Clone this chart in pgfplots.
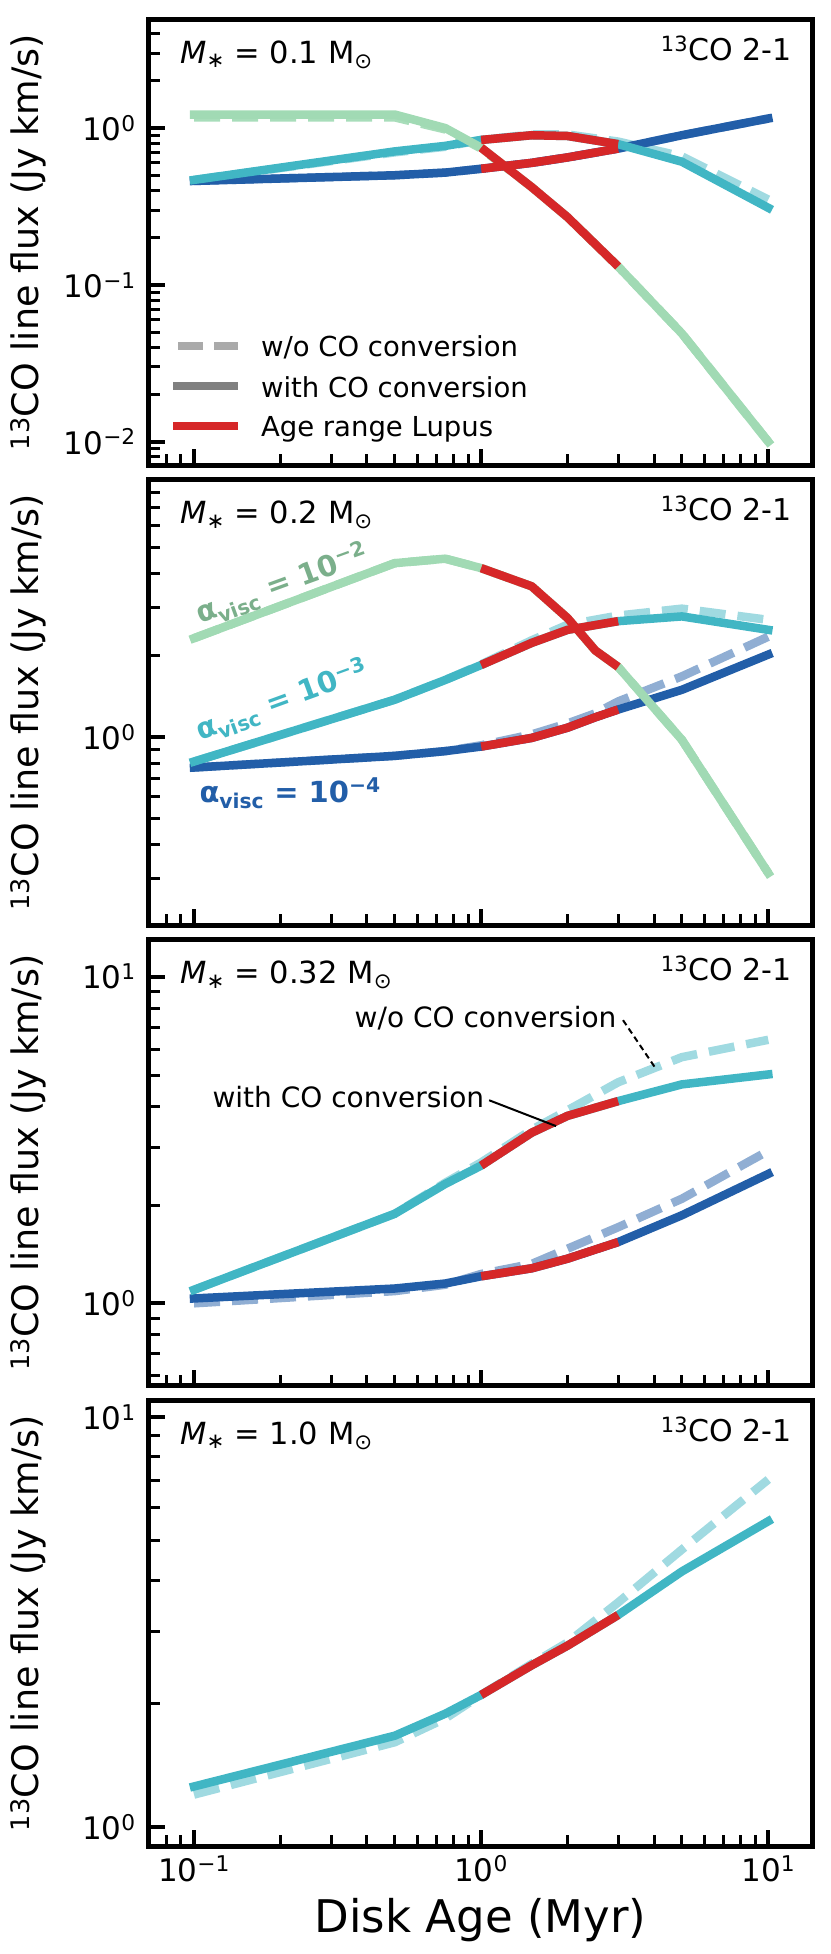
\documentclass[border=0pt]{standalone}
\usepackage{fontspec}
\setmainfont{DejaVu Sans}
\usepackage{pgfplots}
\pgfplotsset{compat=1.18}

\definecolor{cgreen}{HTML}{A1DAB4}
\definecolor{ccyan}{HTML}{41B6C4}
\definecolor{cblue}{HTML}{225EA8}
\definecolor{cred}{HTML}{D62728}
\definecolor{lcyan}{HTML}{A0DAE1}
\definecolor{lblue}{HTML}{90AED3}
\definecolor{lgreen}{HTML}{A8DDBA}
\definecolor{tgreen}{HTML}{7BAF8B}
\definecolor{lgray}{HTML}{AAAAAA}
\definecolor{mgray}{HTML}{808080}

\newcommand{\fs}[2]{\fontsize{#1}{#2}\selectfont}
\newcommand{\sups}[1]{\textsuperscript{#1}}

\tikzset{
  ds/.style={line width=8.5pt, dash pattern=on 26pt off 12pt, line cap=butt, line join=round},
  sl/.style={line width=8.5pt, line cap=rect, line join=round},
  rd/.style={line width=8.5pt, line cap=butt, line join=round, color=cred},
}

\begin{document}
\begin{tikzpicture}
\useasboundingbox (0pt,0pt) rectangle (830pt,-1954pt);

% ---------------- Panel 1 : M = 0.1 ----------------
\begin{axis}[at={(149pt,-19pt)}, anchor=north west,
    width=663pt, height=446pt, scale only axis,
    xmode=log, ymode=log, xmin=0.0697, xmax=14.2,
    tick align=inside, tick pos=left,
    xtick={0.1,1,10},
    minor xtick={0.08,0.09,0.2,0.3,0.4,0.5,0.6,0.7,0.8,0.9,2,3,4,5,6,7,8,9},
    xticklabels={,,},
    axis line style={line width=5pt, line cap=rect},
    major tick length=16pt, minor tick length=11pt,
    major tick style={line width=4pt, black},
    minor tick style={line width=3pt, black},
    tick label style={font=\fs{31}{37}},
    yticklabel style={anchor=east, inner sep=0pt, xshift=-13pt},
    ylabel={\sups{13}CO line flux (Jy km/s)},
    ylabel style={at={(axis description cs:-0.1825,0.5)}, anchor=center, font=\fs{36.5}{43}},
  ymin=0.0071, ymax=4.96,
  ytick={0.01,0.1,1}, yticklabels={10\sups{−2},10\sups{−1},10\sups{0}},
  minor ytick={0.008,0.009,0.02,0.03,0.04,0.05,0.06,0.07,0.08,0.09,0.2,0.3,0.4,0.5,0.6,0.7,0.8,0.9,2,3,4},
  legend image code/.code={\draw[#1,line cap=butt] (0pt,11pt) -- (65pt,11pt);},
  legend style={at={(axis description cs:0.0302,0.0471)}, anchor=south west,
    draw=none, fill=none, inner sep=0pt, outer sep=0pt,
    font=\fs{27.5}{33}, row sep=13pt, column sep=18.5pt,
    nodes={inner sep=0pt, anchor=base west, text height=20pt, text depth=7pt}},
]
\addplot[ds, lgreen, forget plot] coordinates {(0.1,1.17)(0.5,1.17)(0.75,0.98)(1,0.74)(1.5,0.42)(2,0.27)(3,0.131)(5,0.049)(10,0.0100)};
\addplot[ds, lcyan, forget plot] coordinates {(0.1,0.467)(0.5,0.70)(0.75,0.76)(1,0.84)(1.5,0.91)(2,0.91)(3,0.82)(5,0.66)(10,0.35)};
\addplot[ds, lblue, forget plot] coordinates {(0.1,0.46)(0.5,0.50)(0.75,0.52)(1,0.55)(1.5,0.60)(2,0.65)(3,0.74)(5,0.90)(10,1.15)};
\addplot[sl, cblue, forget plot] coordinates {(0.1,0.46)(0.5,0.50)(0.75,0.52)(1,0.55)(1.5,0.60)(2,0.65)(3,0.74)(5,0.90)(10,1.15)};
\addplot[sl, ccyan, forget plot] coordinates {(0.1,0.467)(0.5,0.71)(0.75,0.77)(1,0.84)(1.5,0.90)(2,0.89)(3,0.79)(5,0.61)(10,0.31)};
\addplot[sl, cgreen, forget plot] coordinates {(0.1,1.22)(0.5,1.22)(0.75,1.0)(1,0.75)(1.5,0.42)(2,0.27)(3,0.131)(5,0.049)(10,0.0100)};
\addplot[rd, forget plot] coordinates {(1,0.55)(1.5,0.60)(2,0.65)(3,0.74)};
\addplot[rd, forget plot] coordinates {(1,0.84)(1.5,0.90)(2,0.89)(3,0.79)};
\addplot[rd, forget plot] coordinates {(1,0.75)(1.5,0.42)(2,0.27)(3,0.131)};
\addlegendimage{line width=8.5pt, lgray, dash pattern=on 25pt off 11pt, dash phase=31pt}
\addlegendentry{w/o CO conversion}
\addlegendimage{line width=8.5pt, mgray}
\addlegendentry{with CO conversion}
\addlegendimage{line width=8.5pt, cred}
\addlegendentry{Age range Lupus}
\node[anchor=base west, font=\fs{30.5}{36}] at (axis description cs:0.0418,0.901) {\textit{M}\textsubscript{∗} = 0.1 M\textsubscript{⊙}};
\node[anchor=base east, font=\fs{30}{36}] at (axis description cs:0.974,0.908) {\sups{13}CO 2-1};
\end{axis}

% ---------------- Panel 2 : M = 0.2 ----------------
\begin{axis}[at={(149pt,-479.33pt)}, anchor=north west,
    width=663pt, height=446pt, scale only axis,
    xmode=log, ymode=log, xmin=0.0697, xmax=14.2,
    tick align=inside, tick pos=left,
    xtick={0.1,1,10},
    minor xtick={0.08,0.09,0.2,0.3,0.4,0.5,0.6,0.7,0.8,0.9,2,3,4,5,6,7,8,9},
    xticklabels={,,},
    axis line style={line width=5pt, line cap=rect},
    major tick length=16pt, minor tick length=11pt,
    major tick style={line width=4pt, black},
    minor tick style={line width=3pt, black},
    tick label style={font=\fs{31}{37}},
    yticklabel style={anchor=east, inner sep=0pt, xshift=-13pt},
    ylabel={\sups{13}CO line flux (Jy km/s)},
    ylabel style={at={(axis description cs:-0.1825,0.5)}, anchor=center, font=\fs{36.5}{43}},
  ymin=0.2014, ymax=8.91,
  ytick={1}, yticklabels={10\sups{0}},
  minor ytick={0.3,0.4,0.5,0.6,0.7,0.8,0.9,2,3,4,5,6,7,8},
]
\addplot[ds, lgreen] coordinates {(0.1,2.31)(0.5,4.37)(0.75,4.54)(1,4.19)(1.5,3.59)(2,2.74)(2.5,2.08)(3,1.81)(5,0.975)(10,0.314)};
\addplot[ds, lcyan] coordinates {(0.1,0.81)(0.5,1.37)(0.75,1.62)(1,1.85)(1.5,2.27)(2,2.59)(3,2.80)(5,2.97)(10,2.70)};
\addplot[ds, lblue] coordinates {(0.1,0.77)(0.5,0.85)(0.75,0.885)(1,0.93)(1.5,1.02)(2,1.12)(2.5,1.22)(3,1.35)(5,1.67)(10,2.34)};
\addplot[sl, cblue] coordinates {(0.1,0.77)(0.5,0.85)(0.75,0.885)(1,0.92)(1.5,0.99)(2,1.08)(2.5,1.18)(3,1.26)(5,1.49)(10,2.01)};
\addplot[sl, ccyan] coordinates {(0.1,0.81)(0.5,1.37)(0.75,1.62)(1,1.84)(1.5,2.22)(2,2.48)(3,2.67)(5,2.78)(10,2.48)};
\addplot[sl, cgreen] coordinates {(0.1,2.31)(0.5,4.37)(0.75,4.54)(1,4.19)(1.5,3.59)(2,2.74)(2.5,2.08)(3,1.81)(5,0.975)(10,0.314)};
\addplot[rd] coordinates {(1,0.92)(1.5,0.99)(2,1.08)(2.5,1.18)(3,1.26)};
\addplot[rd] coordinates {(1,1.84)(1.5,2.22)(2,2.48)(3,2.67)};
\addplot[rd] coordinates {(1,4.19)(1.5,3.59)(2,2.74)(2.5,2.08)(3,1.81)};
\node[anchor=base west, font=\fs{30.5}{36}] at (axis description cs:0.0418,0.901) {\textit{M}\textsubscript{∗} = 0.2 M\textsubscript{⊙}};
\node[anchor=base east, font=\fs{30}{36}] at (axis description cs:0.974,0.908) {\sups{13}CO 2-1};
\node[anchor=base west, rotate=20, text=tgreen, font=\fs{29}{34}\bfseries, inner sep=0pt] at (axis description cs:0.0769,0.6765) {α\textsubscript{visc} = 10\sups{−2}};
\node[anchor=base west, rotate=20, text=ccyan, font=\fs{29}{34}\bfseries, inner sep=0pt] at (axis description cs:0.0769,0.415) {α\textsubscript{visc} = 10\sups{−3}};
\node[anchor=base west, text=cblue, font=\fs{29}{34}\bfseries, inner sep=0pt] at (axis description cs:0.0759,0.2765) {α\textsubscript{visc} = 10\sups{−4}};
\end{axis}

% ---------------- Panel 3 : M = 0.32 ----------------
\begin{axis}[at={(149pt,-939.67pt)}, anchor=north west,
    width=663pt, height=446pt, scale only axis,
    xmode=log, ymode=log, xmin=0.0697, xmax=14.2,
    tick align=inside, tick pos=left,
    xtick={0.1,1,10},
    minor xtick={0.08,0.09,0.2,0.3,0.4,0.5,0.6,0.7,0.8,0.9,2,3,4,5,6,7,8,9},
    xticklabels={,,},
    axis line style={line width=5pt, line cap=rect},
    major tick length=16pt, minor tick length=11pt,
    major tick style={line width=4pt, black},
    minor tick style={line width=3pt, black},
    tick label style={font=\fs{31}{37}},
    yticklabel style={anchor=east, inner sep=0pt, xshift=-13pt},
    ylabel={\sups{13}CO line flux (Jy km/s)},
    ylabel style={at={(axis description cs:-0.1825,0.5)}, anchor=center, font=\fs{36.5}{43}},
  ymin=0.5596, ymax=12.98,
  ytick={1,10}, yticklabels={10\sups{0},10\sups{1}},
  minor ytick={0.6,0.7,0.8,0.9,2,3,4,5,6,7,8,9},
]
\addplot[ds, lcyan] coordinates {(0.1,1.10)(0.5,1.88)(0.75,2.34)(1,2.70)(1.5,3.40)(2,3.90)(3,4.75)(5,5.67)(10,6.41)};
\addplot[ds, lblue] coordinates {(0.1,1.00)(0.5,1.09)(0.75,1.14)(1,1.23)(1.5,1.32)(2,1.47)(3,1.71)(5,2.09)(10,2.93)};
\addplot[sl, cblue] coordinates {(0.1,1.035)(0.5,1.11)(0.75,1.15)(1,1.21)(1.5,1.28)(2,1.37)(3,1.54)(5,1.86)(10,2.49)};
\addplot[sl, ccyan] coordinates {(0.1,1.10)(0.5,1.88)(0.75,2.32)(1,2.64)(1.5,3.33)(2,3.75)(3,4.16)(5,4.68)(10,5.02)};
\addplot[rd] coordinates {(1,1.21)(1.5,1.28)(2,1.37)(3,1.54)};
\addplot[rd] coordinates {(1,2.64)(1.5,3.33)(2,3.75)(3,4.16)};
\node[anchor=base west, font=\fs{30.5}{36}] at (axis description cs:0.0418,0.901) {\textit{M}\textsubscript{∗} = 0.32 M\textsubscript{⊙}};
\node[anchor=base east, font=\fs{30}{36}] at (axis description cs:0.974,0.908) {\sups{13}CO 2-1};
\node[anchor=base west, font=\fs{28}{34}] at (axis description cs:0.305,0.802) {w/o CO conversion};
\node[anchor=base west, font=\fs{28}{34}] at (axis description cs:0.0905,0.624) {with CO conversion};
\draw[black, line width=2pt, dash pattern=on 6pt off 4pt] (axis description cs:0.715,0.8195) -- (axis description cs:0.763,0.714);
\draw[black, line width=2pt] (axis description cs:0.513,0.640) -- (axis description cs:0.614,0.582);
\end{axis}

% ---------------- Panel 4 : M = 1.0 ----------------
\begin{axis}[at={(149pt,-1400pt)}, anchor=north west,
    width=663pt, height=446pt, scale only axis,
    xmode=log, ymode=log, xmin=0.0697, xmax=14.2,
    tick align=inside, tick pos=left,
    xtick={0.1,1,10},
    minor xtick={0.08,0.09,0.2,0.3,0.4,0.5,0.6,0.7,0.8,0.9,2,3,4,5,6,7,8,9},
    xticklabels={10\sups{−1},10\sups{0},10\sups{1}},
    xticklabel style={anchor=base, inner sep=0pt, yshift=-35pt},
    axis line style={line width=5pt, line cap=rect},
    major tick length=16pt, minor tick length=11pt,
    major tick style={line width=4pt, black},
    minor tick style={line width=3pt, black},
    tick label style={font=\fs{31}{37}},
    yticklabel style={anchor=east, inner sep=0pt, xshift=-13pt},
    ylabel={\sups{13}CO line flux (Jy km/s)},
    ylabel style={at={(axis description cs:-0.1825,0.5)}, anchor=center, font=\fs{36.5}{43}},
  ymin=0.899, ymax=11.0,
  ytick={1,10}, yticklabels={10\sups{0},10\sups{1}},
  minor ytick={2,3,4,5,6,7,8,9},
  xlabel={Disk Age (Myr)},
  xlabel style={at={(axis description cs:0.5,0)}, anchor=base, yshift=-86pt, font=\fs{45}{54}},
]
\addplot[ds, lcyan] coordinates {(0.1,1.20)(0.5,1.61)(0.75,1.84)(1,2.10)(1.5,2.50)(2,2.82)(3,3.53)(5,4.75)(10,7.04)};
\addplot[sl, ccyan] coordinates {(0.1,1.256)(0.5,1.67)(0.75,1.89)(1,2.10)(1.5,2.48)(2,2.77)(3,3.29)(5,4.20)(10,5.57)};
\addplot[rd] coordinates {(1,2.10)(1.5,2.48)(2,2.77)(3,3.29)};
\node[anchor=base west, font=\fs{30.5}{36}] at (axis description cs:0.0418,0.901) {\textit{M}\textsubscript{∗} = 1.0 M\textsubscript{⊙}};
\node[anchor=base east, font=\fs{30}{36}] at (axis description cs:0.974,0.908) {\sups{13}CO 2-1};
\end{axis}
\end{tikzpicture}
\end{document}
